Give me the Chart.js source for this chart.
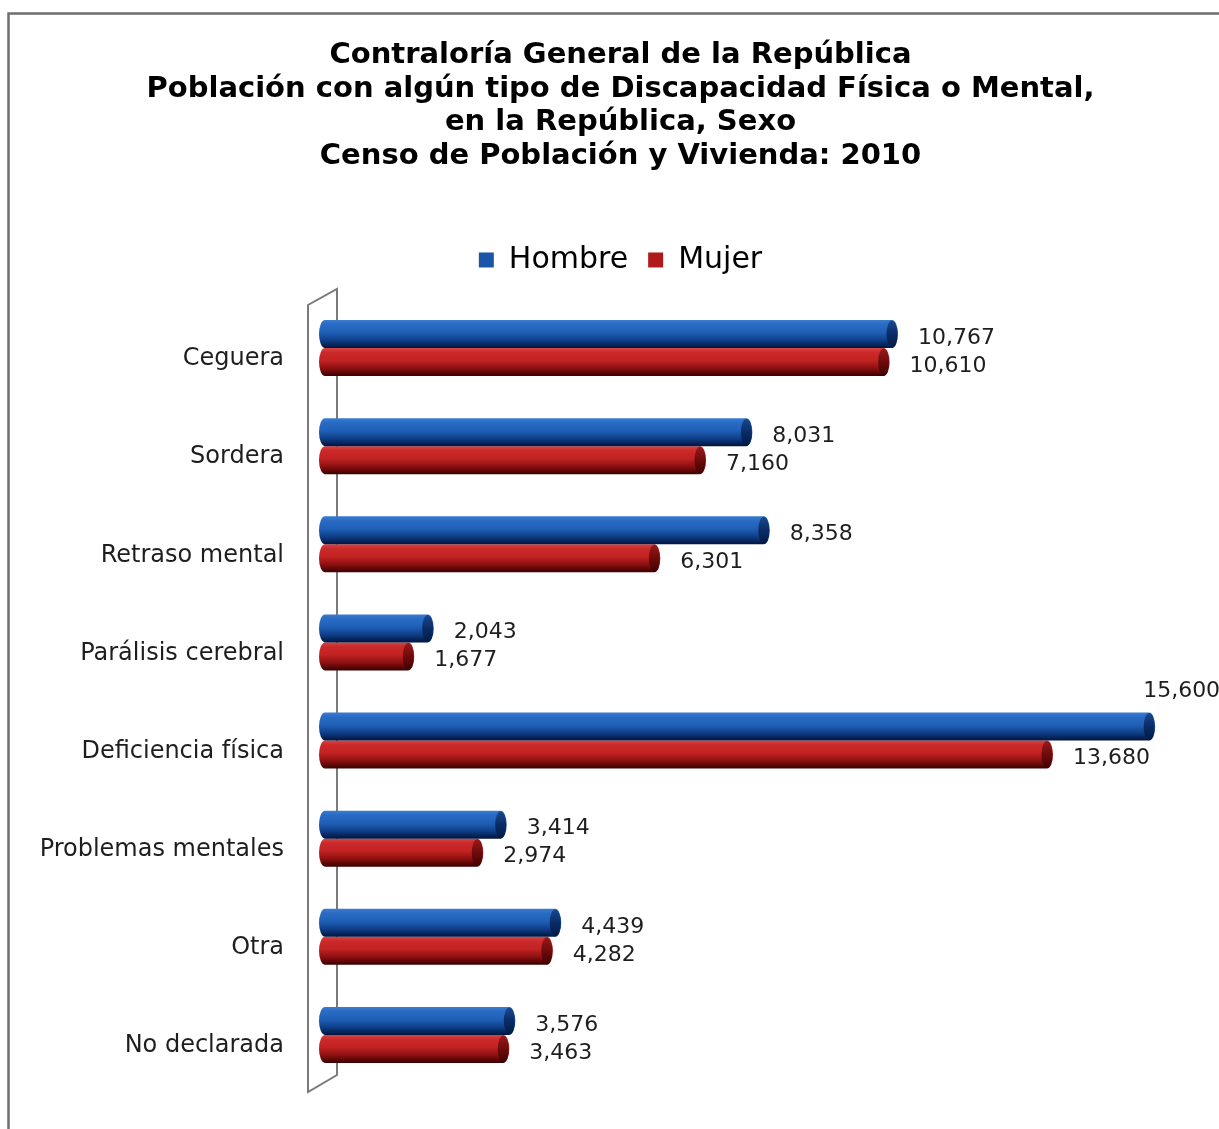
<!DOCTYPE html>
<html>
<head>
<meta charset="utf-8">
<script src="https://cdn.jsdelivr.net/npm/chart.js@4/dist/chart.umd.min.js"></script>
<style>
  html, body { margin: 0; padding: 0; background: #fff; }
  canvas { display: block; }
</style>
</head>
<body>
<canvas id="grafico" width="1219" height="1129"></canvas>
<script>
const categorias = ["Ceguera", "Sordera", "Retraso mental", "Parálisis cerebral",
  "Deficiencia física", "Problemas mentales", "Otra", "No declarada"];
const hombre = [10767, 8031, 8358, 2043, 15600, 3414, 4439, 3576];
const mujer = [10610, 7160, 6301, 1677, 13680, 2974, 4282, 3463];
const titulo = [
  "Contraloría General de la República",
  "Población con algún tipo de Discapacidad Física o Mental,",
  "en la República, Sexo",
  "Censo de Población y Vivienda: 2010"
];

// colores del cilindro: [arriba ... abajo], tapa
const tonos = [
  { cuerpo: ["#3b7bd0", "#2a6cc5", "#1f5fb6", "#0f3f88", "#00143d"], tapa: ["#1a4a90", "#0a2c66", "#001a45"] },
  { cuerpo: ["#d84444", "#cc2a2a", "#c22222", "#8c1010", "#3a0000"], tapa: ["#9a1a1a", "#6e0b0b", "#400000"] }
];

function cilindro(ctx, x0, x1, yc, h, t) {
  const ry = h / 2, rx = 6;
  const g = ctx.createLinearGradient(0, yc - ry, 0, yc + ry);
  g.addColorStop(0, t.cuerpo[0]);
  g.addColorStop(0.15, t.cuerpo[1]);
  g.addColorStop(0.45, t.cuerpo[2]);
  g.addColorStop(0.72, t.cuerpo[3]);
  g.addColorStop(1, t.cuerpo[4]);
  ctx.fillStyle = g;
  ctx.beginPath();
  ctx.ellipse(x0, yc, rx, ry, 0, Math.PI / 2, Math.PI * 1.5);
  ctx.lineTo(x1 - rx, yc - ry);
  ctx.ellipse(x1 - rx, yc, rx, ry, 0, -Math.PI / 2, Math.PI / 2);
  ctx.closePath();
  ctx.fill();
  // tapa
  const g2 = ctx.createLinearGradient(0, yc - ry, 0, yc + ry);
  g2.addColorStop(0, t.tapa[0]);
  g2.addColorStop(0.5, t.tapa[1]);
  g2.addColorStop(1, t.tapa[2]);
  ctx.fillStyle = g2;
  ctx.beginPath();
  ctx.ellipse(x1 - rx, yc, rx - 0.5, ry - 0.5, 0, 0, Math.PI * 2);
  ctx.fill();
}

const dibujo = {
  id: "dibujo",
  beforeDraw(chart) {
    const ctx = chart.ctx;
    ctx.save();
    ctx.strokeStyle = "#6e6e6e";
    ctx.lineWidth = 2.5;
    ctx.beginPath();
    ctx.moveTo(8.5, 1200);
    ctx.lineTo(8.5, 13.5);
    ctx.lineTo(1300, 13.5);
    ctx.stroke();
    ctx.restore();
  },
  beforeDatasetsDraw(chart) {
    // pared lateral
    const ctx = chart.ctx, a = chart.chartArea;
    const xf = a.left + 12, xb = a.left - 17;
    ctx.save();
    ctx.strokeStyle = "#7a7a7a";
    ctx.lineWidth = 2;
    ctx.beginPath();
    ctx.moveTo(xf, a.top - 10);
    ctx.lineTo(xf, a.bottom - 9);
    ctx.lineTo(xb, a.bottom + 8);
    ctx.lineTo(xb, a.top + 6);
    ctx.closePath();
    ctx.stroke();
    ctx.restore();
  },
  beforeDatasetDraw(chart, args) {
    const ctx = chart.ctx;
    const meta = args.meta;
    ctx.save();
    meta.data.forEach((bar) => {
      cilindro(ctx, bar.base, bar.x, bar.y, bar.height, tonos[args.index]);
    });
    ctx.restore();
    return false;
  },
  afterDatasetsDraw(chart) {
    const ctx = chart.ctx;
    ctx.save();
    ctx.font = "22px 'DejaVu Sans'";
    ctx.fillStyle = "#1e1e1e";
    ctx.textBaseline = "middle";
    ctx.textAlign = "left";
    chart.data.datasets.forEach((ds, i) => {
      chart.getDatasetMeta(i).data.forEach((bar, j) => {
        const txt = ds.data[j].toLocaleString("en-US");
        const w = ctx.measureText(txt).width;
        let x = bar.x + 20, y = bar.y + 4;
        if (x + w > chart.width) {
          x = bar.x - 12;
          y = bar.y - bar.height / 2 - 21;
        }
        ctx.fillText(txt, x, y);
      });
    });
    ctx.restore();
  }
};

new Chart(document.getElementById("grafico"), {
  type: "bar",
  data: {
    labels: categorias,
    datasets: [
      { label: "Hombre", data: hombre, backgroundColor: "#1a56a8", borderWidth: 0 },
      { label: "Mujer", data: mujer, backgroundColor: "#b01a1a", borderWidth: 0 }
    ]
  },
  options: {
    indexAxis: "y",
    responsive: false,
    animation: false,
    layout: { padding: { left: 22, right: 0, top: 0, bottom: 45 } },
    datasets: { bar: { categoryPercentage: 0.57, barPercentage: 1 } },
    scales: {
      x: {
        min: 0, max: 16800, position: "top",
        ticks: { display: false },
        grid: { display: false },
        border: { display: false },
        afterFit(scale) { scale.height = 14; }
      },
      y: {
        grid: { display: false, drawTicks: true, tickLength: 41 },
        border: { display: false },
        ticks: {
          padding: 0, labelOffset: 11, color: "#1e1e1e",
          font: { family: "'DejaVu Sans'", size: 24 }
        },
        afterFit(scale) { scale.width = 303; }
      }
    },
    plugins: {
      title: {
        display: true,
        text: titulo,
        color: "#000",
        font: { family: "'DejaVu Sans'", size: 29, weight: "bold", lineHeight: 1.155 },
        padding: { top: 39, bottom: 52 }
      },
      legend: {
        labels: {
          boxWidth: 15, boxHeight: 15, padding: 20, color: "#000",
          font: { family: "'DejaVu Sans'", size: 30 }
        }
      },
      tooltip: { enabled: false }
    }
  },
  plugins: [dibujo]
});
</script>
</body>
</html>
